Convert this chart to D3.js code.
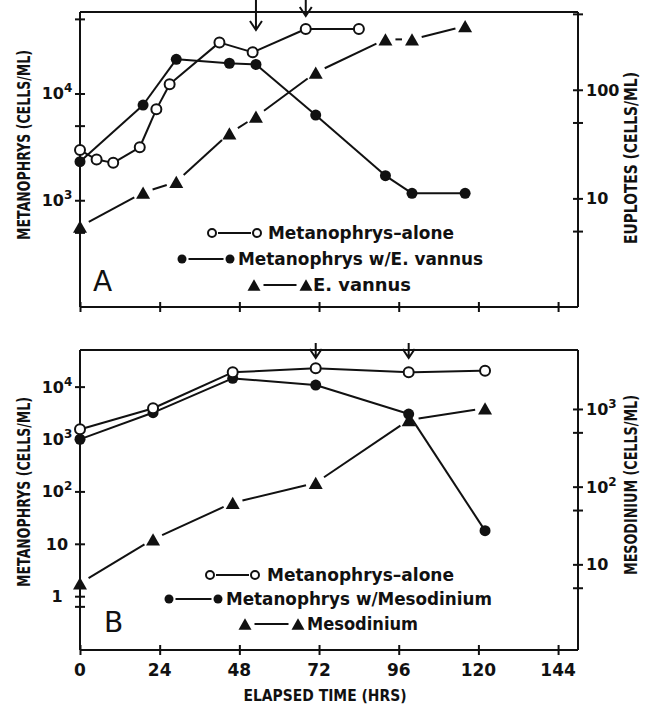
<!DOCTYPE html>
<html lang="en">
<head>
<meta charset="utf-8"/>
<title>Metanophrys growth with prey</title>
<script src="https://d3js.org/d3.v7.min.js"></script>
<style>
  body { margin: 0; background: #fff; }
  text { font-family: "DejaVu Sans", sans-serif; fill: #111; }
</style>
</head>
<body>
<script>
// ---- panel A data (hours, cells/ml) ----
var aloneA_t  = [0, 5, 10, 18, 23, 27, 42, 52, 68, 84];
var aloneA_v  = [2950, 2410, 2240, 3130, 7110, 12200, 30100, 24300, 40200, 40200];
var withA_t   = [0, 19, 29, 45, 53, 71, 92, 100, 116];
var withA_v   = [2300, 7800, 20900, 19200, 18700, 6280, 1700, 1160, 1160];
var vannus_t  = [0, 19, 29, 45, 53, 71, 92, 100, 116];
var vannus_v  = [5.5, 11.3, 14.2, 39.7, 56.5, 144, 291, 291, 386];
var arrowsA   = [53, 68];

// ---- panel B data ----
var aloneB_t  = [0, 22, 46, 71, 99, 122];
var aloneB_v  = [1530, 3860, 18800, 22400, 18800, 20100];
var withB_t   = [0, 22, 46, 71, 99, 122];
var withB_v   = [990, 3180, 14400, 10700, 3000, 17.8];
var meso_t    = [0, 22, 46, 71, 99, 122];
var meso_v    = [5.7, 21, 62, 112, 720, 1020];
var arrowsB   = [71, 99];

// ---- ticks ----
var xTicks      = [0, 24, 48, 72, 96, 120, 144];
var xTickLabels = ["0", "24", "48", "72", "96", "120", "144"];
var yA_ticks    = [50000, 10000, 5000, 1000, 500];
var yA_labels   = [[10000, "10", "4"], [1000, "10", "3"]];
var yA2_ticks   = [500, 100, 50, 10, 5];
var yA2_labels  = [[100, "100", ""], [10, "10", ""]];
var yB_ticks    = [10000, 1000, 100, 10, 1, 0.64];
var yB_labels   = [[10000, "10", "4"], [1000, "10", "3"], [100, "10", "2"], [10, "10", ""], [1, "1", ""]];
var yB2_ticks   = [1000, 500, 100, 50, 10, 5];
var yB2_labels  = [[1000, "10", "3"], [100, "10", "2"], [10, "10", ""]];

var w = 648, h = 705;
var svg = d3.select("body").append("svg")
    .attr("width", w).attr("height", h);

var x = d3.scaleLinear().domain([0, 150]).range([80, 578]);

var yA  = d3.scaleLog().domain([100, 58000]).range([307, 12]);
var yA2 = d3.scaleLog().domain([1, 520]).range([307, 12]);
var yB  = d3.scaleLog().domain([0.094, 50000]).range([650, 350]);
var yB2 = d3.scaleLog().domain([0.79, 5740]).range([650, 350]);

// axes with ticks crossing the line
function axes(yl, yr, lt, rt, top, bottom) {
    var gl = svg.append("g").attr("transform", "translate(80,0)")
        .call(d3.axisLeft(yl).tickValues(lt).tickSizeInner(5).tickSizeOuter(0).tickFormat(""));
    gl.selectAll(".tick line").attr("x1", 5);
    var gr = svg.append("g").attr("transform", "translate(578,0)")
        .call(d3.axisRight(yr).tickValues(rt).tickSizeInner(5).tickSizeOuter(0).tickFormat(""));
    gr.selectAll(".tick line").attr("x1", -5);
    var gb = svg.append("g").attr("transform", "translate(0," + bottom + ")")
        .call(d3.axisBottom(x).tickValues(xTicks).tickSizeInner(5).tickSizeOuter(0).tickFormat(""));
    gb.selectAll(".tick line").attr("y1", -5);
    svg.append("line").attr("x1", 80).attr("x2", 578).attr("y1", top).attr("y2", top);
    svg.selectAll("path.domain, .tick line, line")
        .attr("stroke", "#111").attr("stroke-width", 2);
    gl.select("path.domain").attr("d", "M0," + top + "V" + bottom);
    gr.select("path.domain").attr("d", "M0," + top + "V" + bottom);
    gb.select("path.domain").attr("d", "M80,0H578");
}
axes(yA, yA2, yA_ticks, yA2_ticks, 12, 307);
axes(yB, yB2, yB_ticks, yB2_ticks, 350, 650);

// tick labels with superscripts
function yLabels(scale, list, xPos, anchor) {
    list.forEach(function(d) {
        var t = svg.append("text")
            .attr("x", xPos).attr("y", scale(d[0]) + 6)
            .attr("text-anchor", anchor)
            .style("font-size", "16px").style("font-weight", "bold");
        t.append("tspan").text(d[1]);
        if (d[2]) t.append("tspan").attr("dy", -7).style("font-size", "12px").text(d[2]);
    });
}
yLabels(yA, yA_labels, 57, "middle");
yLabels(yA2, yA2_labels, 586, "start");
yLabels(yB, yB_labels, 57, "middle");
yLabels(yB2, yB2_labels, 586, "start");

svg.selectAll(".xlab").data(xTicks).enter().append("text")
    .attr("x", function(d) { return x(d); })
    .attr("y", 676)
    .attr("text-anchor", "middle")
    .style("font-size", "17px").style("font-weight", "bold")
    .text(function(d, i) { return xTickLabels[i]; });

svg.append("text").attr("x", 325).attr("y", 701).attr("text-anchor", "middle")
    .attr("textLength", 163).attr("lengthAdjust", "spacingAndGlyphs")
    .style("font-size", "16px").style("font-weight", "bold")
    .text("ELAPSED TIME (HRS)");

// axis titles
function vTitle(cx, cy, len, label) {
    svg.append("text")
        .attr("transform", "translate(" + cx + "," + cy + ") rotate(-90)")
        .attr("text-anchor", "middle").attr("dy", "0.36em")
        .attr("textLength", len).attr("lengthAdjust", "spacingAndGlyphs")
        .style("font-size", "17px").style("font-weight", "bold")
        .text(label);
}
vTitle(24, 145, 190, "METANOPHRYS (CELLS/ML)");
vTitle(631, 158, 172, "EUPLOTES (CELLS/ML)");
vTitle(24, 492, 190, "METANOPHRYS (CELLS/ML)");
vTitle(631, 485, 180, "MESODINIUM (CELLS/ML)");

// markers
function marker(g, kind, px, py, size) {
    if (kind === "open") {
        g.append("circle").attr("cx", px).attr("cy", py).attr("r", size)
            .attr("fill", "#fff").attr("stroke", "#111").attr("stroke-width", 2);
    } else if (kind === "filled") {
        g.append("circle").attr("cx", px).attr("cy", py).attr("r", size).attr("fill", "#111");
    } else {
        var s = size, hh = s * 0.87;
        g.append("path")
            .attr("d", "M" + px + "," + (py - hh / 2) + "L" + (px + s / 2) + "," + (py + hh / 2) +
                       "L" + (px - s / 2) + "," + (py + hh / 2) + "Z")
            .attr("fill", "#111");
    }
}

// line segments stop short of the markers
function series(ys, t, v, kind, size, gap) {
    var g = svg.append("g");
    var pts = t.map(function(d, i) { return [x(d), ys(v[i])]; });
    for (var i = 0; i < pts.length - 1; i++) {
        var a = pts[i], b = pts[i + 1];
        var dx = b[0] - a[0], dy = b[1] - a[1], L = Math.sqrt(dx * dx + dy * dy);
        if (L <= 2 * gap) continue;
        var ux = dx / L, uy = dy / L;
        g.append("line")
            .attr("x1", a[0] + ux * gap).attr("y1", a[1] + uy * gap)
            .attr("x2", b[0] - ux * gap).attr("y2", b[1] - uy * gap)
            .attr("stroke", "#111").attr("stroke-width", 2);
    }
    pts.forEach(function(p) { marker(g, kind, p[0], p[1], size); });
}

series(yA2, vannus_t, vannus_v, "tri", 14, 10);
series(yA, withA_t, withA_v, "filled", 5.5, 4);
series(yA, aloneA_t, aloneA_v, "open", 5, 5);

series(yB2, meso_t, meso_v, "tri", 14, 10);
series(yB, withB_t, withB_v, "filled", 5.5, 4);
series(yB, aloneB_t, aloneB_v, "open", 5, 5);

// sampling arrows
function arrow(t, y0, y1) {
    var px = x(t);
    svg.append("path")
        .attr("d", "M" + px + "," + y0 + "V" + y1 + "M" + (px - 6) + "," + (y1 - 9) + "L" + px + "," + y1 + "L" + (px + 6) + "," + (y1 - 9))
        .attr("fill", "none").attr("stroke", "#111").attr("stroke-width", 2);
}
arrow(arrowsA[0], 0, 30);
arrow(arrowsA[1], 0, 16);
arrow(arrowsB[0], 343, 358);
arrow(arrowsB[1], 343, 358);

// legends
function legendRow(y, x1, x2, tx, kind, size, label, len) {
    var g = svg.append("g");
    var off = kind === "tri" ? size / 2 + 3 : size + 2;
    g.append("line").attr("x1", x1 + off).attr("x2", x2 - off)
        .attr("y1", y).attr("y2", y).attr("stroke", "#111").attr("stroke-width", 2);
    marker(g, kind, x1, y, size);
    marker(g, kind, x2, y, size);
    g.append("text").attr("x", tx).attr("y", y + 6)
        .attr("textLength", len).attr("lengthAdjust", "spacingAndGlyphs")
        .style("font-size", "17px").style("font-weight", "bold")
        .text(label);
}
legendRow(233, 212, 257, 268, "open", 4, "Metanophrys\u2013alone", 186);
legendRow(259, 182, 230, 238, "filled", 4.5, "Metanophrys w/E. vannus", 245);
legendRow(285, 254, 306, 313, "tri", 13, "E. vannus", 98);

legendRow(575, 210, 255, 267, "open", 4, "Metanophrys\u2013alone", 187);
legendRow(599, 169, 218, 226, "filled", 4.5, "Metanophrys w/Mesodinium", 266);
legendRow(624, 245, 298, 307, "tri", 13, "Mesodinium", 111);

// panel letters
svg.append("text").attr("x", 93).attr("y", 291).style("font-size", "28px").text("A");
svg.append("text").attr("x", 104).attr("y", 632).style("font-size", "28px").text("B");
</script>
</body>
</html>
